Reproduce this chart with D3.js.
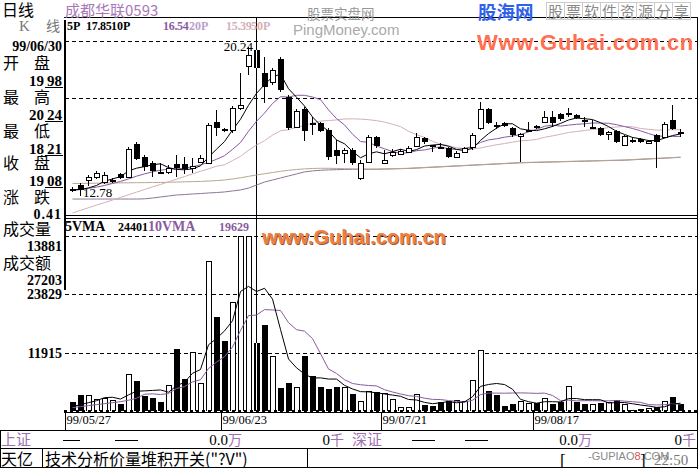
<!DOCTYPE html>
<html><head><meta charset="utf-8">
<script src="https://cdn.jsdelivr.net/npm/d3@7"></script>
<style>
html,body{margin:0;padding:0;background:#fff;}
svg{display:block;}
</style></head><body><svg id="c" width="700" height="469"></svg>
<script>
// ---------------- data ----------------
const open  = [13.13,13.32,13.57,13.72,13.47,13.52,13.87,13.72,15.35,14.71,14.41,13.97,13.97,14.36,14.36,14.16,14.46,14.41,16.44,16.09,
               16.04,17.13,19.20,19.98,18.86,18.41,19.55,17.67,16.19,17.08,16.39,16.39,16.04,15.05,14.90,15.05,13.67,14.46,15.69,14.41,
               14.80,14.85,14.95,15.25,15.64,15.30,15.20,15.15,14.71,14.95,15.20,16.14,17.08,16.29,16.39,16.14,15.74,15.99,16.24,16.44,
               16.68,16.83,16.86,16.78,16.55,16.17,16.14,15.84,15.99,15.30,15.55,15.60,15.40,15.79,15.69,16.53,15.94];
const high  = [13.22,13.42,13.82,14.02,13.97,13.67,13.92,15.20,15.45,14.81,14.51,14.41,14.31,14.81,14.71,14.66,14.81,16.39,17.03,16.14,
               17.23,18.86,20.14,20.24,19.65,19.10,19.65,17.77,17.08,17.18,16.68,16.44,16.14,15.55,15.15,15.15,14.56,15.79,15.74,15.05,
               15.10,15.10,15.25,15.89,15.69,15.30,15.40,15.20,15.00,15.20,15.89,17.42,17.13,16.44,16.44,16.19,15.89,16.44,16.29,16.98,
               16.98,16.88,17.13,16.83,16.68,16.53,16.19,15.99,16.04,15.79,15.69,15.64,15.55,15.84,16.44,17.28,16.09];
const low   = [12.98,12.78,13.27,13.62,13.37,13.42,13.62,13.67,14.56,14.02,13.72,13.87,13.87,13.72,13.87,13.92,14.41,14.36,15.74,15.94,
               15.89,17.03,18.76,18.21,17.37,18.26,17.92,16.04,16.14,15.50,15.79,15.94,14.56,14.36,14.41,14.31,13.57,14.41,15.15,14.36,
               14.71,14.80,14.90,15.20,15.35,14.95,15.10,14.66,14.66,14.90,15.05,16.04,16.34,16.09,16.19,15.69,14.46,15.94,16.09,16.39,
               16.19,16.49,16.68,16.58,16.19,16.14,15.74,15.55,15.40,15.25,15.40,15.40,15.35,14.16,15.64,16.04,15.69];
const close = [13.03,13.08,13.72,13.92,13.82,13.57,13.67,15.10,14.61,14.21,14.02,13.92,14.16,14.16,14.11,14.26,14.66,16.29,16.14,15.99,
               17.13,17.30,19.75,19.08,18.16,19.00,18.02,16.14,16.98,15.99,16.29,15.99,14.71,14.76,15.05,14.41,14.41,15.69,15.25,14.56,
               14.95,15.00,15.15,15.69,15.45,15.20,15.15,14.71,14.90,15.15,15.79,17.08,16.39,16.24,16.24,15.79,15.84,16.04,16.14,16.68,
               16.39,16.58,16.88,16.63,16.51,16.19,15.79,15.94,15.45,15.74,15.45,15.45,15.50,15.45,16.34,16.09,15.84];
const volume = [1900,3290,3290,2460,2730,2260,1440,7600,6160,3080,2730,1910,5340,12730,6570,11980,5740,30600,19100,14350,
                22300,35700,35800,13881,17650,11280,4650,5680,4860,11280,7180,4860,4450,4860,4860,3490,2120,4170,3970,3630,
                2400,890,890,3420,1230,1030,1780,2120,2260,2120,6230,12370,4100,3290,1030,1440,2050,1710,1710,2600,
                1440,1780,5130,1780,1440,1440,1710,1780,2260,1440,200,480,700,880,2050,2940,1440];
const ma5Lead  = [13.10,13.10,13.18,13.30];
const ma10Lead = [13.05,13.10,13.16,13.22,13.30,13.40,13.50,13.62,13.76];
const ma20Lead = [11.94,12.07,12.20,12.33,12.45,12.58,12.71,12.84,12.97,13.10,13.23,13.35,13.48,13.61,13.74,13.87,14.00,14.12,14.25];
const ma50     = [13.40,13.40,13.41,13.41,13.42,13.42,13.43,13.43,13.44,13.44,13.45,13.45,13.46,13.47,13.48,13.49,13.50,13.52,13.54,13.57,
                  13.62,13.68,13.75,13.82,13.88,13.94,14.00,14.05,14.09,14.12,14.14,14.15,14.15,14.14,14.13,14.12,14.11,14.11,14.11,14.12,
                  14.13,14.14,14.15,14.17,14.19,14.21,14.23,14.25,14.27,14.29,14.31,14.33,14.35,14.37,14.39,14.41,14.43,14.44,14.45,14.46,
                  14.47,14.48,14.49,14.50,14.51,14.52,14.53,14.54,14.55,14.56,14.58,14.60,14.62,14.64,14.66,14.68,14.70];
// long average whose legend is hidden under the watermark
const maLong   = [12.63,12.63,12.63,12.63,12.63,12.63,12.63,12.63,12.63,12.64,12.68,12.73,12.78,12.83,12.85,12.88,12.90,12.93,12.95,12.98,
                  13.03,13.08,13.17,13.32,13.47,13.57,13.67,13.77,13.87,13.97,14.02,14.05,14.07,14.08,14.09,14.10,14.10,14.10,14.10,14.11,
                  14.12,14.13,14.14,14.16,14.18,14.20,14.22,14.24,14.26,14.28,14.30,14.32,14.34,14.36,14.38,14.40,14.42,14.43,14.44,14.45,
                  14.46,14.47,14.48,14.49,14.50,14.51,14.52,14.53,14.54,14.55,14.57,14.59,14.61,14.63,14.65,14.67,14.69];
const vma5Lead  = [900,1300,1700,2100];
const vma10Lead = [700,900,1100,1300,1500,1700,1900,2200,2600];
const priceGrid = [17.62,20.44];
const volGrid   = [11915,23829,35745];
const tickIdx    = [0,19,39,58];
const tickLabels = ['99/05/27','99/06/23','99/07/21','99/08/17'];
const cursorIdx = 23;
const maNames  = ['5P','10P','20P','50P'];
const maValues = ['17.85','16.54','15.39',''];
const infoDate = '99/06/30';
const infoRows = [['开','盘','19','98'],['最','高','20','24'],['最','低','18','21'],['收','盘','19','08'],['涨','跌','0.41','']];
const volInfo = {vol:'13881', amt:'27203', vma5:'24401', vma10:'19629'};

// ---------------- setup ----------------
const svg = d3.select('#c');
const N = close.length;
const idx = d3.range(N);
const x = d3.scaleBand().domain(idx).range([69, 69 + 8 * N]).paddingInner(0.25).paddingOuter(0.125);
const yP = d3.scaleLinear().domain([12.78, 20.24]).range([196, 45]);
const yV = d3.scaleLinear().domain([0, 35745]).range([411, 236]);
const SERIF = '"Liberation Serif", "DejaVu Serif", serif';
const CJK = '"Noto Sans CJK SC", sans-serif';
const SANS = '"Liberation Sans", Arial, sans-serif';
const PURPLE = '#8a5aa0', LPURPLE = '#b9a0c8', PINK = '#d4b0b8', TAN = '#b8a890', DUSK = '#8c7896';

function ma(vals, n, lead) {
  return vals.map((v, i) => i < n - 1 ? lead[i] : d3.mean(vals.slice(i - n + 1, i + 1)));
}
const ma5 = ma(close, 5, ma5Lead), ma10 = ma(close, 10, ma10Lead), ma20 = ma(close, 20, ma20Lead);
const vma5 = ma(volume, 5, vma5Lead), vma10 = ma(volume, 10, vma10Lead);

svg.append('rect').attr('width', 700).attr('height', 469).attr('fill', '#fff');

const defs = svg.append('defs');
defs.append('clipPath').attr('id', 'cp').append('rect').attr('x', 65).attr('y', 19).attr('width', 631).attr('height', 195);
defs.append('clipPath').attr('id', 'cv').append('rect').attr('x', 65).attr('y', 219).attr('width', 631).attr('height', 192);

const cx = i => x(i) + 2.5;

// ---------------- grid ----------------
const grid = svg.append('g').attr('stroke', '#000').attr('stroke-dasharray', '4,3').attr('shape-rendering', 'crispEdges');
priceGrid.forEach(p => grid.append('line').attr('x1', 65).attr('x2', 697).attr('y1', Math.round(yP(p)) + 0.5).attr('y2', Math.round(yP(p)) + 0.5));
volGrid.forEach(v => grid.append('line').attr('x1', 65).attr('x2', 697).attr('y1', Math.round(yV(v)) + 0.5).attr('y2', Math.round(yV(v)) + 0.5));

// cursor line
svg.append('line').attr('x1', cx(cursorIdx)).attr('x2', cx(cursorIdx)).attr('y1', 18).attr('y2', 412)
  .attr('stroke', '#000').attr('shape-rendering', 'crispEdges');

// ---------------- MA lines (price) ----------------
const lineP = d3.line().x((d, i) => cx(i)).y(d => yP(d)).curve(d3.curveLinear);
const gl = svg.append('g').attr('clip-path', 'url(#cp)').attr('fill', 'none').attr('stroke-width', 1);
[[maLong, DUSK], [ma50, TAN], [ma20, PINK], [ma10, PURPLE], [ma5, '#000']].forEach(([s, c]) => gl.append('path').attr('d', lineP(s)).attr('stroke', c));

// ---------------- candles ----------------
const gc = svg.append('g').attr('shape-rendering', 'crispEdges').attr('clip-path', 'url(#cp)');
idx.forEach(i => {
  const o = open[i], c = close[i], h = high[i], l = low[i];
  const up = c >= o;
  const x0 = x(i), bw = x.bandwidth();
  const yt = Math.round(yP(Math.max(o, c))), yb = Math.round(yP(Math.min(o, c)));
  const yh = Math.round(yP(h)), yl = Math.round(yP(l));
  if (up) {
    gc.append('line').attr('x1', cx(i)).attr('x2', cx(i)).attr('y1', yh).attr('y2', yt).attr('stroke', '#000');
    gc.append('line').attr('x1', cx(i)).attr('x2', cx(i)).attr('y1', yb).attr('y2', yl).attr('stroke', '#000');
    gc.append('rect').attr('x', x0 + 0.5).attr('y', yt + 0.5).attr('width', bw - 1).attr('height', Math.max(yb - yt, 1))
      .attr('fill', '#fff').attr('stroke', '#000');
  } else {
    gc.append('line').attr('x1', cx(i)).attr('x2', cx(i)).attr('y1', yh).attr('y2', yl).attr('stroke', '#000');
    gc.append('rect').attr('x', x0).attr('y', yt).attr('width', bw).attr('height', Math.max(yb - yt, 2)).attr('fill', '#000');
    if (i === cursorIdx) gc.append('line').attr('x1', cx(i)).attr('x2', cx(i)).attr('y1', yt).attr('y2', yb).attr('stroke', '#fff');
  }
});

// hi / lo labels
const iHi = d3.maxIndex(high), iLo = d3.minIndex(low);
svg.append('text').attr('x', x(iHi) - 1).attr('y', yP(high[iHi]) + 6).attr('text-anchor', 'end')
  .attr('font-family', SERIF).attr('font-size', 13).text(high[iHi].toFixed(2));
svg.append('text').attr('x', x(iLo) + 5).attr('y', yP(low[iLo]) + 1).attr('text-anchor', 'start')
  .attr('font-family', SERIF).attr('font-size', 13).text(low[iLo].toFixed(2));

// ---------------- volume ----------------
const gv = svg.append('g').attr('shape-rendering', 'crispEdges').attr('clip-path', 'url(#cv)');
idx.forEach(i => {
  const up = close[i] >= open[i];
  const x0 = x(i), bw = x.bandwidth();
  const yt = Math.round(yV(volume[i])), yb = Math.round(yV(0));
  if (up) gv.append('rect').attr('x', x0 + 0.5).attr('y', yt + 0.5).attr('width', bw - 1).attr('height', yb - yt).attr('fill', '#fff').attr('stroke', '#000');
  else gv.append('rect').attr('x', x0).attr('y', yt).attr('width', bw).attr('height', yb - yt + 1).attr('fill', '#000');
  if (i === cursorIdx) gv.append('line').attr('x1', cx(i)).attr('x2', cx(i)).attr('y1', yt).attr('y2', yb).attr('stroke', up ? '#000' : '#fff');
});
const lineV = d3.line().x((d, i) => cx(i)).y(d => yV(d));
const glv = svg.append('g').attr('clip-path', 'url(#cv)').attr('fill', 'none');
glv.append('path').attr('d', lineV(vma10)).attr('stroke', PURPLE);
glv.append('path').attr('d', lineV(vma5)).attr('stroke', '#000');

// ---------------- frames ----------------
const fr = svg.append('g').attr('stroke', '#000').attr('shape-rendering', 'crispEdges').attr('fill', 'none');
fr.append('line').attr('x1', 64).attr('x2', 698).attr('y1', 17.5).attr('y2', 17.5);
fr.append('line').attr('x1', 64).attr('x2', 698).attr('y1', 215.5).attr('y2', 215.5).attr('stroke-width', 1.5);
fr.append('line').attr('x1', 64).attr('x2', 698).attr('y1', 218.5).attr('y2', 218.5);
fr.append('line').attr('x1', 697.5).attr('x2', 697.5).attr('y1', 17).attr('y2', 469);
fr.append('line').attr('x1', 64.5).attr('x2', 64.5).attr('y1', 20).attr('y2', 290).attr('stroke-width', 2);
fr.append('line').attr('x1', 64).attr('x2', 698).attr('y1', 412.5).attr('y2', 412.5);
fr.append('line').attr('x1', 64).attr('x2', 698).attr('y1', 410.5).attr('y2', 410.5).attr('stroke-width', 2).attr('stroke-dasharray', '3,3');
fr.append('line').attr('x1', 0).attr('x2', 698).attr('y1', 430.5).attr('y2', 430.5);
fr.append('line').attr('x1', 0).attr('x2', 698).attr('y1', 448.5).attr('y2', 448.5);
fr.append('line').attr('x1', 0).attr('x2', 698).attr('y1', 467.5).attr('y2', 467.5);
fr.append('line').attr('x1', 0.5).attr('x2', 0.5).attr('y1', 430).attr('y2', 468);
fr.append('line').attr('x1', 42.5).attr('x2', 42.5).attr('y1', 448).attr('y2', 468);
fr.append('line').attr('x1', 307.5).attr('x2', 307.5).attr('y1', 448).attr('y2', 468);

// date axis
tickIdx.forEach((ti, k) => {
  const tx = k === 0 ? 65.5 : Math.round(x(ti)) - 0.5;
  fr.append('line').attr('x1', tx).attr('x2', tx).attr('y1', 412).attr('y2', 430);
  svg.append('text').attr('x', tx + 1).attr('y', 424).attr('font-family', SERIF).attr('font-size', 12.5).text(tickLabels[k]);
});

// ---------------- texts ----------------
function t(xp, yp, s, o = {}) {
  return svg.append('text').attr('x', xp).attr('y', yp).attr('font-family', o.f || SERIF).attr('font-size', o.s || 14)
    .attr('fill', o.c || '#000').attr('font-weight', o.w || 'normal').attr('text-anchor', o.a || 'start')
    .attr('letter-spacing', o.ls || 0).text(s);
}
t(2, 16, '日线', {f: CJK, s: 16});
t(65, 16, '成都华联0593', {f: CJK, s: 15, c: '#a878b8'});
t(19, 31, 'K', {f: SERIF, s: 15, c: '#777'});
t(46, 31, '线', {f: CJK, s: 14, c: '#777'});

// MA legend
const legX = [67, 111, 189, 251], valX = [86, 163, 226, 0];
const legC = ['#000', '#000', LPURPLE, PINK], valC = ['#000', PURPLE, PINK, PINK];
maNames.forEach((n, k) => {
  t(legX[k], 30, n, {s: 12, w: 'bold', c: legC[k]});
  if (maValues[k]) t(valX[k], 30, maValues[k], {s: 12, w: 'bold', c: valC[k], ls: -0.3});
});

// watermarks
t(307, 19, '股票实盘网', {f: CJK, s: 13.5, c: '#999'});
t(293, 35, 'PingMoney.com', {f: SANS, s: 15, c: '#aaa'});
t(478, 19, '股海网', {f: CJK, s: 18.5, c: '#2f62e8', w: 'bold'});
const wm = '股票软件资源分享'.split('');
wm.forEach((ch, k) => {
  svg.append('rect').attr('x', 546.5 + k * 18).attr('y', 2.5).attr('width', 18).attr('height', 17).attr('fill', 'none').attr('stroke', '#ccc');
  t(548 + k * 18, 17, ch, {f: CJK, s: 15, c: '#8a8a8a'});
});
t(477, 50, 'Www.Guhai.com.cn', {f: SANS, s: 22, w: 'bold', c: '#ff6f50', ls: 0.7});
t(263, 245, 'www.Guhai.com.cn', {f: SANS, s: 20, w: 'bold', c: '#9a5a30'});
t(262, 244, 'www.Guhai.com.cn', {f: SANS, s: 20, w: 'bold', c: '#f08040'});

// info panel
t(62, 51, infoDate, {a: 'end', s: 14, w: 'bold'});
const rowY = [69, 103, 137, 169, 203];
infoRows.forEach((r, k) => {
  t(3, rowY[k], r[0], {f: CJK, s: 16});
  t(34, rowY[k], r[1], {f: CJK, s: 16});
  const ny = rowY[k] + 17;
  if (r[3]) {
    t(44, ny, r[2], {a: 'end', s: 15, w: 'bold'});
    t(47, ny, r[3], {a: 'start', s: 15, w: 'bold'});
    svg.append('line').attr('x1', 45).attr('x2', 63).attr('y1', ny + 1.5).attr('y2', ny + 1.5).attr('stroke', '#000');
  } else {
    t(62, ny - 1, r[2], {a: 'end', s: 14, w: 'bold', ls: 1});
  }
});
t(3, 235, '成交量', {f: CJK, s: 16});
t(62, 251, volInfo.vol, {a: 'end', s: 14, w: 'bold'});
t(3, 269, '成交额', {f: CJK, s: 16});
t(62, 285, volInfo.amt, {a: 'end', s: 14, w: 'bold'});
volGrid.slice(0, 2).forEach(v => t(62, Math.round(yV(v)) + 5, String(v), {a: 'end', s: 14, w: 'bold'}));

// volume header
t(65, 231, '5VMA', {s: 14, w: 'bold'});
t(118, 231, volInfo.vma5, {s: 12, w: 'bold'});
t(148, 231, '10VMA', {s: 14, w: 'bold', c: PURPLE});
t(219, 231, volInfo.vma10, {s: 12, w: 'bold', c: PURPLE});

// bottom bar
t(1, 445, '上证', {f: CJK, s: 15, c: '#a070b0'});
t(352, 445, '深证', {f: CJK, s: 15, c: '#a070b0'});
[[63, 80], [115, 138], [412, 435], [465, 488]].forEach(([a, b]) =>
  svg.append('line').attr('x1', a).attr('x2', b).attr('y1', 440.5).attr('y2', 440.5).attr('stroke', '#000'));
t(228, 445, '0.0', {a: 'end', s: 15});
t(228, 445, '万', {f: CJK, s: 14, c: '#a070b0'});
t(330, 445, '0', {a: 'end', s: 15});
t(330, 445, '千', {f: CJK, s: 14, c: '#a070b0'});
t(578, 445, '0.0', {a: 'end', s: 15});
t(578, 445, '万', {f: CJK, s: 14, c: '#a070b0'});
t(682, 445, '0', {a: 'end', s: 15});
t(682, 445, '千', {f: CJK, s: 14, c: '#a070b0'});
t(1, 465, '天亿', {f: CJK, s: 16});
t(45, 465, '技术分析价量堆积开关("?V")', {f: CJK, s: 16});
t(560, 466, '[', {s: 17});
const wmk = svg.append('text').attr('x', 588).attr('y', 460).attr('font-family', SANS).attr('font-size', 11).attr('fill', '#888');
wmk.append('tspan').text('-GUPIAO');
wmk.append('tspan').attr('fill', '#e05050').text('8');
wmk.append('tspan').text('.COM');
t(640, 466, ']', {s: 17});
t(654, 465, '22:50', {s: 15, c: '#777'});
</script></body></html>
